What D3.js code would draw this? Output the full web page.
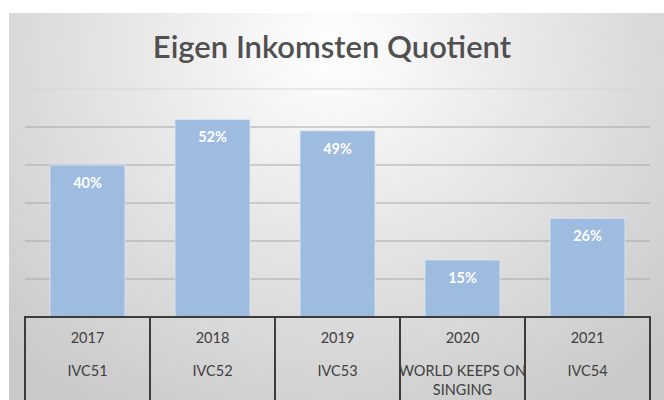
<!DOCTYPE html>
<html>
<head>
<meta charset="utf-8">
<script src="https://cdn.jsdelivr.net/npm/d3@7"></script>
<style>
  body { margin: 0; background: #fff; }
  svg { display: block; }
</style>
</head>
<body>
<svg width="664" height="400"></svg>
<script>

// data
var years = ["2017", "2018", "2019", "2020", "2021"];
var editions = [["IVC51"], ["IVC52"], ["IVC53"], ["WORLD KEEPS ON", "SINGING"], ["IVC54"]];
var values = [0.40, 0.52, 0.49, 0.15, 0.26];
var yTicks = [0, 0.1, 0.2, 0.3, 0.4, 0.5, 0.6];

const svg = d3.select('svg');
const font = "Lato, 'Open Sans', sans-serif";

//Background with radial gradient like the office chart area
var defs = svg.append('defs');
var grad = defs.append('radialGradient')
	.attr('id', 'bg')
	.attr('gradientUnits', 'userSpaceOnUse')
	.attr('cx', 332).attr('cy', 50).attr('r', 460)
	.attr('gradientTransform', 'translate(332,50) scale(1,0.9) translate(-332,-50)');
grad.append('stop').attr('offset', '0%').attr('stop-color', '#ffffff');
grad.append('stop').attr('offset', '70%').attr('stop-color', '#d9d9d9');
grad.append('stop').attr('offset', '100%').attr('stop-color', '#cacaca');

svg.append('rect')
	.attr('x', 9).attr('y', 13)
	.attr('width', 655).attr('height', 387)
	.attr('fill', 'url(#bg)');

//Title
svg.append('text')
	.attr('x', 332).attr('y', 58)
	.attr('text-anchor', 'middle')
	.style('font-family', font)
	.style('font-size', '31px')
	.style('font-weight', '600')
	.style('fill', '#505050')
	.text('Eigen Inkomsten Quotient');

//Scales
var x = d3.scaleBand().domain(years).range([25, 650]).paddingInner(0.4).paddingOuter(0.2);
var y = d3.scaleLinear().domain([0, 0.6]).range([317, 89]);

//Gridlines
svg.append('g').selectAll('line')
	.data(yTicks.slice(1))
	.join('line')
	.attr('x1', 25).attr('x2', 650)
	.attr('y1', d => y(d)).attr('y2', d => y(d))
	.attr('stroke', d => d == 0.6 ? '#d6d6d6' : '#a8a8a8')
	.attr('stroke-width', 1);

//Bars
svg.append('g').selectAll('rect')
	.data(values)
	.join('rect')
	.attr('x', (d, i) => x(years[i]))
	.attr('y', d => y(d))
	.attr('width', x.bandwidth())
	.attr('height', d => y(0) - y(d))
	.attr('fill', '#9ebbe0')
	.attr('stroke', '#dfe8f5')
	.attr('stroke-width', 0.8);

//Value labels
svg.append('g').selectAll('text')
	.data(values)
	.join('text')
	.attr('x', (d, i) => x(years[i]) + x.bandwidth() / 2)
	.attr('y', d => y(d) + 23)
	.attr('text-anchor', 'middle')
	.style('font-family', font)
	.style('font-size', '14.5px')
	.style('font-weight', 'bold')
	.style('fill', '#ffffff')
	.text(d => Math.round(d * 100) + '%');

//Category axis boxes
var step = x.step();
var axis = svg.append('g');
axis.append('line')
	.attr('x1', 25).attr('x2', 650)
	.attr('y1', y(0)).attr('y2', y(0))
	.attr('stroke', '#3c3c3c').attr('stroke-width', 2);
axis.selectAll('line.sep')
	.data(d3.range(years.length + 1))
	.join('line')
	.attr('class', 'sep')
	.attr('x1', i => 25 + i * step).attr('x2', i => 25 + i * step)
	.attr('y1', y(0) - 1).attr('y2', 400)
	.attr('stroke', '#3c3c3c').attr('stroke-width', 2);

axis.selectAll('text.year')
	.data(years)
	.join('text')
	.attr('class', 'year')
	.attr('x', d => x(d) + x.bandwidth() / 2)
	.attr('y', 342.5)
	.attr('text-anchor', 'middle')
	.style('font-family', font)
	.style('font-size', '14.5px')
	.style('fill', '#404040')
	.text(d => d);

axis.selectAll('text.ed')
	.data(editions)
	.join('text')
	.attr('class', 'ed')
	.attr('x', (d, i) => x(years[i]) + x.bandwidth() / 2)
	.attr('y', 375.5)
	.attr('text-anchor', 'middle')
	.style('font-family', font)
	.style('font-size', '14.5px')
	.style('fill', '#404040')
	.each(function(d) {
		var t = d3.select(this);
		d.forEach(function(s, k) {
			t.append('tspan')
				.attr('x', t.attr('x'))
				.attr('dy', k == 0 ? 0 : 19)
				.text(s);
		});
	});

</script>
</body>
</html>
